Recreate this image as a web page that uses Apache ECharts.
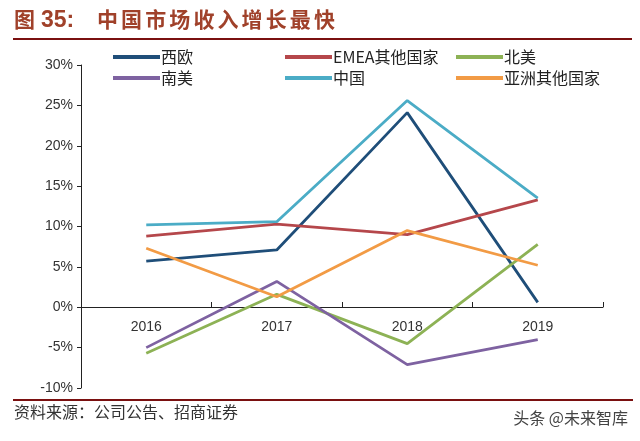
<!DOCTYPE html>
<html>
<head>
<meta charset="utf-8">
<script src="https://cdn.jsdelivr.net/npm/echarts@6/dist/echarts.min.js"></script>
<style>html,body{margin:0;padding:0;background:#fff}#c{width:640px;height:441px}</style>
</head>
<body>
<div id="c"></div>
<script>
var categories = ['2016', '2017', '2018', '2019'];
var seriesNames = ['西欧', 'EMEA其他国家', '北美', '南美', '中国', '亚洲其他国家'];
var westEurope = [5.7, 7.1, 24.1, 0.6];
var emeaOther = [8.8, 10.3, 9.0, 13.3];
var northAmerica = [-5.7, 1.6, -4.5, 7.8];
var southAmerica = [-5.0, 3.2, -7.1, -4.0];
var china = [10.2, 10.6, 25.6, 13.5];
var asiaOther = [7.3, 1.3, 9.5, 5.2];
var yTicks = [-10, -5, 0, 5, 10, 15, 20, 25, 30];
var titleText = '中国市场收入增长最快';

var colors = ['#1F4E79', '#B5474B', '#8DB255', '#7E62A1', '#4BACC6', '#F29B45'];
var values = [westEurope, emeaOther, northAmerica, southAmerica, china, asiaOther];

var chart = echarts.init(document.getElementById('c'));
var font = '"Liberation Sans", Arial, sans-serif';
var cjk = '"Noto Sans CJK SC", sans-serif';

function legendCol(x, names) {
  return {
    orient: 'vertical', left: x, top: 47, padding: 0, itemWidth: 47, itemHeight: 4, itemGap: 1,
    icon: 'rect', data: names,
    textStyle: { fontFamily: cjk, fontSize: 16, lineHeight: 20, color: '#222', padding: [0, 0, 0, -4] }
  };
}

var titleGraphics = [
  { type: 'text', left: 14, top: 9, style: { text: '图', font: 'bold 21px ' + cjk, fill: '#A0412A' } },
  { type: 'text', left: 41, top: 9, style: { text: '35:', font: 'bold 23px ' + font, fill: '#A0412A' } }
];
titleText.split('').forEach(function (ch, i) {
  titleGraphics.push({ type: 'text', left: 97 + i * 24.1, top: 9, style: { text: ch, font: 'bold 21px ' + cjk, fill: '#A0412A' } });
});

var option = {
  animation: false,
  color: colors,
  legend: [
    legendCol(113, [seriesNames[0], seriesNames[3]]),
    legendCol(285, [seriesNames[1], seriesNames[4]]),
    legendCol(456, [seriesNames[2], seriesNames[5]])
  ],
  grid: { left: 81, right: 37, top: 65, bottom: 53 },
  xAxis: {
    type: 'category', data: categories, boundaryGap: true,
    offset: -81,
    axisLine: { onZero: false, lineStyle: { color: '#222', width: 1 } },
    axisTick: { show: true, inside: true, length: 5, lineStyle: { color: '#222' } },
    axisLabel: { margin: 13, fontFamily: font, fontSize: 14, color: '#333' }
  },
  yAxis: {
    type: 'value', min: -10, max: 30, interval: 5,
    splitLine: { show: false },
    axisLine: { show: true, lineStyle: { color: '#222', width: 1 } },
    axisTick: { show: true, length: 4, lineStyle: { color: '#222' } },
    axisLabel: {
      margin: 8, fontFamily: font, fontSize: 14, color: '#333',
      formatter: function (v) { return yTicks.indexOf(v) >= 0 ? v + '%' : ''; }
    }
  },
  series: seriesNames.map(function (n, i) {
    return {
      name: n, type: 'line', data: values[i], symbol: 'none',
      lineStyle: { width: 2.8, color: colors[i] }, itemStyle: { color: colors[i] }
    };
  }),
  graphic: titleGraphics.concat([
    { type: 'rect', shape: { x: 13, y: 38, width: 619, height: 2 }, style: { fill: '#7A1010' } },
    { type: 'rect', shape: { x: 13, y: 399, width: 620, height: 2 }, style: { fill: '#7A1010' } },
    { type: 'text', left: 14, top: 404, style: { text: '资料来源：公司公告、招商证券', font: '16px ' + cjk, fill: '#333' } },
    { type: 'text', right: 12, top: 410, style: { text: '头条 @未来智库', font: '16px ' + cjk, fill: '#444' } }
  ])
};
chart.setOption(option);
</script>
</body>
</html>
